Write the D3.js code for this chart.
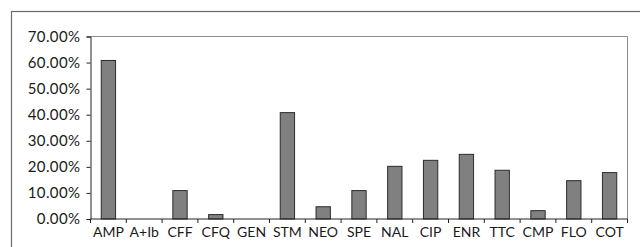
<!DOCTYPE html>
<html>
<head>
<meta charset="utf-8">
<script src="https://cdn.jsdelivr.net/npm/d3@7"></script>
<style>
  body { margin: 0; background: #fff; }
  text { font-family: Lato, sans-serif; fill: #1a1a1a; }
</style>
</head>
<body>
<script>
var categories = ["AMP", "A+Ib", "CFF", "CFQ", "GEN", "STM", "NEO", "SPE", "NAL", "CIP", "ENR", "TTC", "CMP", "FLO", "COT"];
var values = [0.608, 0, 0.109, 0.017, 0, 0.408, 0.047, 0.109, 0.202, 0.225, 0.248, 0.187, 0.032, 0.147, 0.178];
var yTicks = [0, 0.1, 0.2, 0.3, 0.4, 0.5, 0.6, 0.7];

var width = 640,
    height = 247;
var margin = {left: 90.5, right: 12.5, top: 36.5, bottom: 28};

var svg = d3.select("body").append("svg")
    .attr("width", width)
    .attr("height", height);

// outer frame (right/bottom run off the picture)
svg.append("rect")
    .attr("x", 11.5).attr("y", 11.5)
    .attr("width", 640).attr("height", 260)
    .attr("fill", "none")
    .attr("stroke", "#6b6b6b")
    .attr("stroke-width", 1.2);

var x = d3.scaleBand()
    .domain(categories)
    .range([margin.left, width - margin.right])
    .paddingInner(0.6)
    .paddingOuter(0.3);

var y = d3.scaleLinear()
    .domain([0, 0.7])
    .range([height - margin.bottom, margin.top]);

// plot area border
svg.append("path")
    .attr("d", "M" + margin.left + "," + margin.top + "H" + (width - margin.right) + "V" + y(0))
    .attr("fill", "none")
    .attr("stroke", "#8c8c8c")
    .attr("stroke-width", 1);

svg.append("g")
    .selectAll("rect")
    .data(values)
    .enter()
    .append("rect")
    .attr("x", function(d, i) { return x(categories[i]); })
    .attr("y", function(d) { return y(d); })
    .attr("width", x.bandwidth())
    .attr("height", function(d) { return y(0) - y(d); })
    .style("fill", "#808080")
    .style("stroke", "#2b2b2b")
    .style("stroke-width", 1)
    .style("display", function(d) { return d > 0 ? null : "none"; });

var yAxis = svg.append("g")
    .attr("transform", "translate(" + margin.left + ",0)")
    .call(d3.axisLeft(y).tickValues(yTicks).tickFormat(d3.format(".2%")).tickSize(4).tickPadding(6));

// x axis with ticks at band edges
var edges = d3.range(categories.length + 1).map(function(i) { return margin.left + i * (width - margin.right - margin.left) / categories.length; });
var xg = svg.append("g");
xg.append("line")
    .attr("x1", margin.left).attr("x2", width - margin.right)
    .attr("y1", y(0)).attr("y2", y(0))
    .attr("stroke", "#222");
xg.selectAll(".tk")
    .data(edges)
    .enter().append("line")
    .attr("x1", function(d) { return d; }).attr("x2", function(d) { return d; })
    .attr("y1", y(0)).attr("y2", y(0) + 4)
    .attr("stroke", "#222");
xg.selectAll("text")
    .data(categories)
    .enter().append("text")
    .attr("x", function(d) { return x(d) + x.bandwidth() / 2; })
    .attr("y", y(0) + 18)
    .attr("text-anchor", "middle")
    .style("font-size", "14px")
    .text(function(d) { return d; });

yAxis.select(".domain").attr("stroke", "#222");
yAxis.selectAll(".tick line").attr("stroke", "#222");
yAxis.selectAll("text")
    .style("font-size", "15px")
    .style("letter-spacing", "0.4px")
    .style("font-family", "Lato, sans-serif")
    .attr("fill", "#1a1a1a");
</script>
</body>
</html>
